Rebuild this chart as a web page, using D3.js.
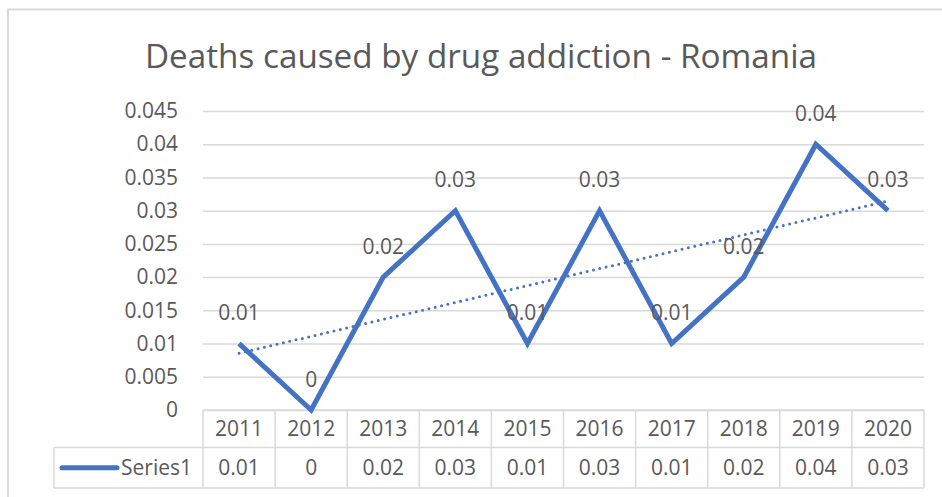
<!DOCTYPE html>
<html lang="en">
  <head>
    <meta charset="utf-8">
    <title>Deaths caused by drug addiction - Romania</title>
    <style>
      body { margin: 0; background: #fff; }
      text { font-family: "Open Sans", "Noto Sans", sans-serif; fill: #595959; }
    </style>
  </head>
  <body>
    <div id="chart"></div>
  </body>
  <script src="https://cdn.jsdelivr.net/npm/d3@7"></script>
  <script type="text/javascript">
    // data
    var years = ["2011", "2012", "2013", "2014", "2015", "2016", "2017", "2018", "2019", "2020"];
    var deaths = [0.01, 0, 0.02, 0.03, 0.01, 0.03, 0.01, 0.02, 0.04, 0.03];
    var yTicks = [0, 0.005, 0.01, 0.015, 0.02, 0.025, 0.03, 0.035, 0.04, 0.045];
    var yTickLabels = ["0", "0.005", "0.01", "0.015", "0.02", "0.025", "0.03", "0.035", "0.04", "0.045"];
    var seriesName = "Series1";
    var title = "Deaths caused by drug addiction - Romania";

    var width = 942;
    var height = 497;
    // plot area ("top" is taken by window.top, so prefixed names)
    var pLeft = 203, pRight = 924, pTop = 111, pBottom = 410;
    var blue = "#4472C4";
    var grey = "#d9d9d9";

    var svg = d3.select("#chart")
      .append("svg")
      .attr("width", width)
      .attr("height", height);

    // outer frame (only top and left edges show)
    svg.append("path")
      .attr("d", "M8," + height + "V9.5H" + width)
      .attr("fill", "none")
      .attr("stroke", grey)
      .attr("stroke-width", 2);

    svg.append("text")
      .attr("x", 481)
      .attr("y", 68)
      .attr("text-anchor", "middle")
      .attr("font-size", 32)
      .attr("textLength", 672)
      .attr("lengthAdjust", "spacingAndGlyphs")
      .text(title);

    var x = d3.scaleBand().domain(years).range([pLeft, pRight]);
    var y = d3.scaleLinear().domain([0, 0.045]).range([pBottom, pTop]);

    // y axis + gridlines
    var yAxis = d3.axisLeft(y)
      .tickValues(yTicks)
      .tickSize(-(pRight - pLeft))
      .tickPadding(25)
      .tickFormat(function(d, i) { return yTickLabels[i]; });
    var gy = svg.append("g")
      .attr("transform", "translate(" + pLeft + ",0)")
      .call(yAxis);
    gy.select(".domain").remove();
    gy.selectAll(".tick line").attr("stroke", grey).attr("stroke-width", 1.5);
    gy.selectAll(".tick text")
      .attr("font-size", 21)
      .attr("font-family", "Open Sans")
      .attr("fill", "#595959");

    // data table under the plot
    var row1 = pBottom, row2 = 447.5, row3 = 488;
    var gTable = svg.append("g")
      .attr("stroke", grey)
      .attr("stroke-width", 1.5)
      .attr("fill", "none");
    gTable.append("path").attr("d", "M" + pLeft + "," + row1 + "H" + pRight);
    gTable.append("path").attr("d", "M54," + row2 + "H" + pRight);
    gTable.append("path").attr("d", "M54," + row3 + "H" + pRight);
    gTable.append("path").attr("d", "M54," + row2 + "V" + row3);
    gTable.selectAll(".col")
      .data(years.concat(["end"]))
      .enter()
      .append("path")
      .attr("d", function(d, i) {
        var cx = pLeft + i * x.bandwidth();
        return "M" + cx + "," + row1 + "V" + row3;
      });

    svg.append("g").selectAll("text")
      .data(years)
      .enter()
      .append("text")
      .attr("x", function(d) { return x(d) + x.bandwidth() / 2; })
      .attr("y", (row1 + row2) / 2)
      .attr("dy", "0.36em")
      .attr("text-anchor", "middle")
      .attr("font-size", 21)
      .text(function(d) { return d; });

    svg.append("g").selectAll("text")
      .data(deaths)
      .enter()
      .append("text")
      .attr("x", function(d, i) { return x(years[i]) + x.bandwidth() / 2; })
      .attr("y", (row2 + row3) / 2)
      .attr("dy", "0.36em")
      .attr("text-anchor", "middle")
      .attr("font-size", 21)
      .text(function(d) { return d; });

    // legend key in the table
    svg.append("line")
      .attr("x1", 62).attr("x2", 117)
      .attr("y1", (row2 + row3) / 2).attr("y2", (row2 + row3) / 2)
      .attr("stroke", blue)
      .attr("stroke-width", 5)
      .attr("stroke-linecap", "round");
    svg.append("text")
      .attr("x", 121)
      .attr("y", (row2 + row3) / 2)
      .attr("dy", "0.36em")
      .attr("font-size", 21)
      .text(seriesName);

    // linear trendline (least squares, as the spreadsheet does)
    var n = deaths.length;
    var mx = d3.mean(deaths, function(d, i) { return i + 1; });
    var my = d3.mean(deaths);
    var sxy = 0, sxx = 0;
    deaths.forEach(function(d, i) {
      sxy += (i + 1 - mx) * (d - my);
      sxx += (i + 1 - mx) * (i + 1 - mx);
    });
    var slope = sxy / sxx;
    var icpt = my - slope * mx;
    var trend = [[years[0], icpt + slope], [years[n - 1], icpt + slope * n]];

    var cx = function(yr) { return x(yr) + x.bandwidth() / 2; };

    svg.append("path")
      .datum(trend)
      .attr("d", d3.line().x(function(d) { return cx(d[0]); }).y(function(d) { return y(d[1]); }))
      .attr("fill", "none")
      .attr("stroke", blue)
      .attr("stroke-width", 3)
      .attr("stroke-linecap", "round")
      .attr("stroke-dasharray", "0,6.5");

    // series line
    svg.append("path")
      .datum(deaths)
      .attr("d", d3.line()
        .x(function(d, i) { return cx(years[i]); })
        .y(function(d) { return y(d); }))
      .attr("fill", "none")
      .attr("stroke", blue)
      .attr("stroke-width", 5)
      .attr("stroke-linejoin", "miter");

    // data labels above points
    svg.append("g").selectAll("text")
      .data(deaths)
      .enter()
      .append("text")
      .attr("x", function(d, i) { return cx(years[i]); })
      .attr("y", function(d) { return y(d) - 31; })
      .attr("dy", "0.36em")
      .attr("text-anchor", "middle")
      .attr("font-size", 21)
      .text(function(d) { return d; });
  </script>
</html>
